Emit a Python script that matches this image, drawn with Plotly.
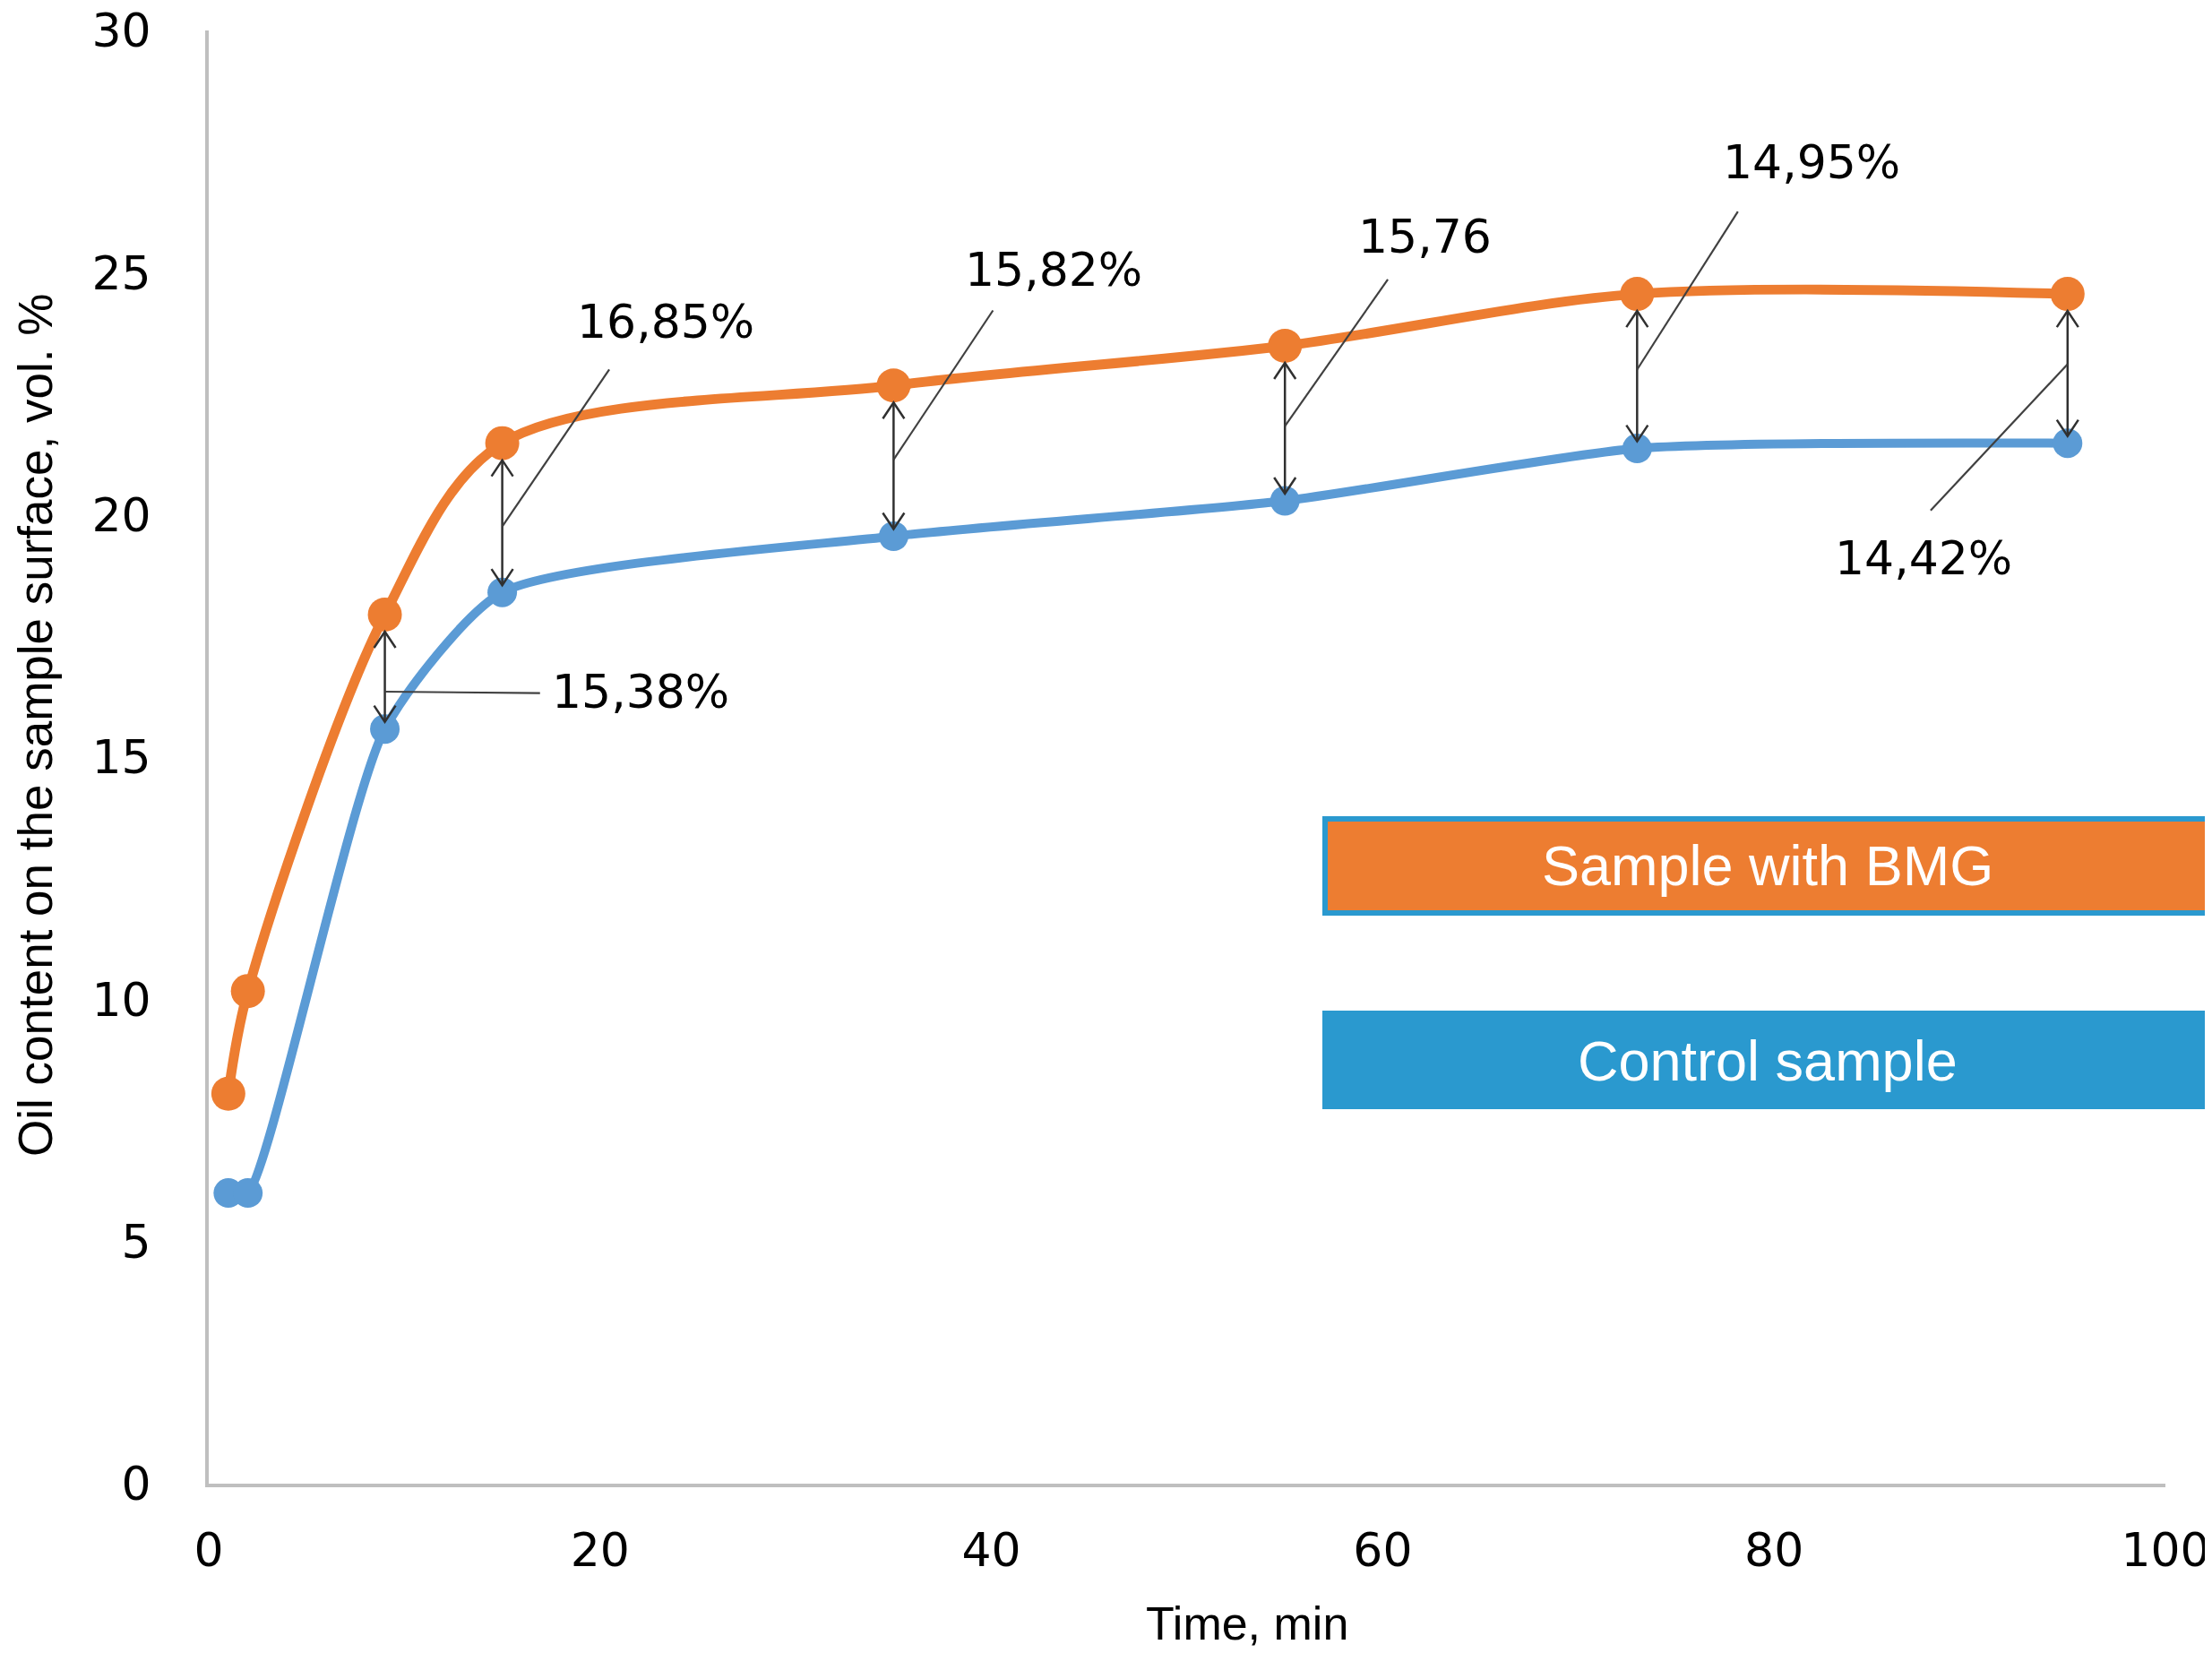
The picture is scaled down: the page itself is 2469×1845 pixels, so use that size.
import plotly.graph_objects as go

# ---------------- data ----------------
time_min = [1, 2, 9, 15, 35, 55, 73, 95]
bmg = [8.05, 10.17, 17.94, 21.48, 22.67, 23.49, 24.56, 24.56]
control = [6.0, 6.0, 15.58, 18.40, 19.56, 20.29, 21.37, 21.48]

gap_times = [9, 15, 35, 55, 73, 95]
gap_labels = ["15,38%", "16,85%", "15,82%", "15,76", "14,95%", "14,42%"]

x_ticks = [0, 20, 40, 60, 80, 100]
y_ticks = [0, 5, 10, 15, 20, 25, 30]

series_names = ["Sample with BMG", "Control sample"]

# ---------------- layout constants ----------------
W, H = 2469, 1845
OFF = 8                      # page body margin
ML, MR, MT, MB = 225, 60, 26, 197
PW, PH = W - ML - MR, H - MT - MB
X_RANGE = [0, 100]
Y_RANGE = [0, 30]
px_x = PW / (X_RANGE[1] - X_RANGE[0])
px_y = PH / (Y_RANGE[1] - Y_RANGE[0])

ORANGE = "#ED7D31"
BLUE = "#5B9BD5"
BOX_BLUE = "#2A99CF"
ARROW_C = "#303030"

# label placement (text x, text y, xanchor, leader start y, leader end x, leader end y)
label_layout = [
    (17.43, 16.35, "left", 16.35, 16.93, 16.32),
    (23.36, 23.98, "center", 19.76, 20.47, 23.0),
    (43.2, 25.06, "center", 21.14, 40.08, 24.22),
    (62.14, 25.74, "center", 21.83, 60.26, 24.86),
    (81.9, 27.28, "center", 23.0, 78.15, 26.26),
    (87.66, 19.1, "center", 23.11, 88.0, 20.09),
]


def py(pix):
    """page pixel (y) -> paper y"""
    return (H - MB - (pix - OFF)) / PH


def pxp(pix):
    """page pixel (x) -> paper x"""
    return (pix - OFF - ML) / PW


fig = go.Figure()

fig.add_trace(go.Scatter(
    x=time_min, y=bmg, mode="lines+markers", name=series_names[0],
    line=dict(color=ORANGE, width=11, shape="spline", smoothing=0.9),
    marker=dict(color=ORANGE, size=38),
    cliponaxis=False,
))
fig.add_trace(go.Scatter(
    x=time_min, y=control, mode="lines+markers", name=series_names[1],
    line=dict(color=BLUE, width=10, shape="spline", smoothing=0.6),
    marker=dict(color=BLUE, size=33),
    cliponaxis=False,
))

shapes = []
annotations = []

# double arrows between the curves
tip_top_px = 19
tip_bot_px = 8
arm_dx = 12 / px_x
arm_dy = 18 / px_y
for t in gap_times:
    i = time_min.index(t)
    y_top = bmg[i] - tip_top_px / px_y
    y_bot = control[i] + tip_bot_px / px_y
    shapes.append(dict(type="line", xref="x", yref="y", x0=t, x1=t, y0=y_bot, y1=y_top,
                       line=dict(color=ARROW_C, width=2.5)))
    shapes.append(dict(type="path", xref="x", yref="y",
                       path=f"M {t-arm_dx},{y_top-arm_dy} L {t},{y_top} L {t+arm_dx},{y_top-arm_dy}",
                       line=dict(color=ARROW_C, width=2.5)))
    shapes.append(dict(type="path", xref="x", yref="y",
                       path=f"M {t-arm_dx},{y_bot+arm_dy} L {t},{y_bot} L {t+arm_dx},{y_bot+arm_dy}",
                       line=dict(color=ARROW_C, width=2.5)))

# leader lines and gap labels
for t, lab, (tx, ty, xa, sy, ex, ey) in zip(gap_times, gap_labels, label_layout):
    shapes.append(dict(type="line", xref="x", yref="y", x0=t, y0=sy, x1=ex, y1=ey,
                       line=dict(color="#404040", width=2.2)))
    annotations.append(dict(x=tx, y=ty, xref="x", yref="y", text=lab, showarrow=False,
                            xanchor=xa, yanchor="middle",
                            font=dict(family="DejaVu Sans", size=52, color="#000000")))

# legend-like boxes
shapes.append(dict(type="rect", xref="paper", yref="paper",
                   x0=pxp(1479), x1=pxp(2466), y0=py(1019), y1=py(914),
                   fillcolor=ORANGE, line=dict(color=BOX_BLUE, width=6)))
shapes.append(dict(type="rect", xref="paper", yref="paper",
                   x0=pxp(1476), x1=pxp(2485), y0=py(1238), y1=py(1128),
                   fillcolor=BOX_BLUE, line=dict(width=0)))
annotations.append(dict(x=pxp(1973), y=py(966), xref="paper", yref="paper",
                        text=series_names[0], showarrow=False, xanchor="center", yanchor="middle",
                        font=dict(family="Liberation Sans", size=63, color="white")))
annotations.append(dict(x=pxp(1973), y=py(1184), xref="paper", yref="paper",
                        text=series_names[1], showarrow=False, xanchor="center", yanchor="middle",
                        font=dict(family="Liberation Sans", size=63, color="white")))

# axis titles
annotations.append(dict(x=pxp(1392), y=py(1812), xref="paper", yref="paper",
                        text="Time, min", showarrow=False, xanchor="center", yanchor="middle",
                        font=dict(family="Liberation Sans", size=52, color="#000000")))
annotations.append(dict(x=pxp(40), y=py(810), xref="paper", yref="paper",
                        text="Oil content on the sample surface, vol. %", showarrow=False,
                        textangle=-90, xanchor="center", yanchor="middle",
                        font=dict(family="Liberation Sans", size=53, color="#000000")))

fig.update_layout(
    width=W, height=H,
    margin=dict(l=ML, r=MR, t=MT, b=MB, pad=0, autoexpand=False),
    paper_bgcolor="white", plot_bgcolor="white",
    showlegend=False,
    shapes=shapes, annotations=annotations,
    xaxis=dict(range=X_RANGE, tickvals=x_ticks, ticktext=[str(v) for v in x_ticks],
               showgrid=False, zeroline=False, showline=True, linecolor="#BFBFBF", linewidth=4,
               ticks="", ticklabelstandoff=26, automargin=False, ticklabeloverflow="allow",
               tickfont=dict(family="DejaVu Sans", size=52, color="#000000")),
    yaxis=dict(range=Y_RANGE, tickvals=y_ticks, ticktext=[str(v) for v in y_ticks],
               showgrid=False, zeroline=False, showline=True, linecolor="#BFBFBF", linewidth=4,
               ticks="", ticklabelstandoff=50, automargin=False, ticklabeloverflow="allow",
               tickfont=dict(family="DejaVu Sans", size=52, color="#000000")),
)

fig.write_html("out.html")
